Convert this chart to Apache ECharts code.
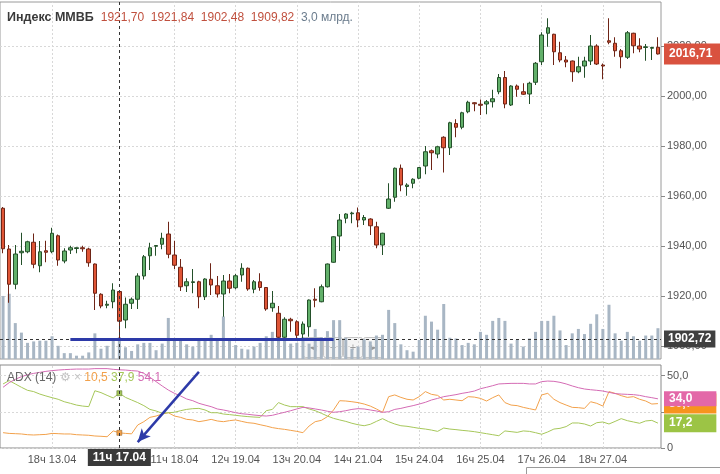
<!DOCTYPE html>
<html><head><meta charset="utf-8">
<script src="https://cdn.jsdelivr.net/npm/echarts/dist/echarts.min.js"></script>
<style>html,body{margin:0;padding:0;background:#fff}#c{width:720px;height:474px}</style>
</head><body><div id="c"></div><script>
// ---- data ----
const days = ['13.04','14.04','17.04','18.04','19.04','20.04','21.04','24.04','25.04','26.04','27.04','28.04'];
const hours = [10,11,12,13,14,15,16,17,18];
const categories = [];
days.forEach(d => hours.forEach(h => categories.push(h + 'ч ' + d)));

const opens = [1955.0,1938.7,1924.6,1937.2,1937.6,1941.4,1932.0,1938.0,1937.6,1944.0,
 1933.9,1938.3,1938.9,1939.2,1938.7,1932.7,1920.6,1916.2,1917.6,1921.70,
 1910.3,1917.0,1918.6,1927.9,1936.0,1939.8,1940.6,1944.7,1936.3,1931.4,
 1924.0,1925.3,1925.6,1919.6,1926.6,1924.0,1920.7,1925.9,1923.2,1928.3,
 1931.0,1922.6,1925.6,1923.3,1915.2,1913.0,1903.4,1910.6,1909.6,1904.7,
 1907.6,1918.6,1917.6,1923.6,1933.4,1943.9,1951.0,1952.8,1953.2,1950.3,
 1950.7,1947.6,1940.3,1955.0,1959.4,1971.0,1963.7,1965.0,1967.0,1971.9,
 1978.0,1976.7,1983.4,1979.2,1988.9,1987.4,1993.6,1997.2,1996.6,1996.7,
 1997.6,2001.6,2007.3,1996.3,2003.9,2001.6,2000.7,2005.4,2013.6,2025.0,
 2024.6,2017.2,2014.3,2013.9,2009.6,2011.9,2013.9,2019.9,2012.3,2022.0,
 2021.0,2018.0,2015.4,2025.0,2019.9,2019.3,2019.0,2019.4];
const closes = [1938.8,1924.6,1936.7,1937.8,1941.6,1932.6,1937.6,1937.4,1945.0,1934.3,
 1937.9,1939.2,1939.2,1938.8,1933.2,1921.0,1915.9,1916.6,1922.3,1909.82,
 1916.6,1918.6,1927.9,1935.6,1939.2,1940.1,1943.0,1936.6,1932.2,1923.6,
 1925.6,1925.6,1919.6,1926.7,1924.3,1920.7,1925.9,1923.0,1928.0,1931.0,
 1922.7,1925.6,1923.3,1914.7,1917.0,1903.4,1910.6,1910.0,1904.2,1908.7,
 1918.3,1918.2,1923.6,1932.7,1943.6,1950.3,1952.7,1953.1,1950.3,1951.3,
 1948.0,1940.3,1945.0,1958.7,1971.0,1964.3,1964.3,1966.6,1971.3,1977.6,
 1977.2,1979.6,1979.2,1989.2,1987.4,1993.2,1997.4,1996.8,1996.2,1997.6,
 1998.8,2007.3,1996.7,2003.9,2002.6,2000.6,2005.0,2013.0,2024.3,2027.2,
 2017.6,2014.3,2013.5,2009.6,2011.6,2013.9,2019.9,2012.7,2011.9,2021.4,
 2018.0,2015.6,2025.2,2020.0,2018.7,2019.6,2019.3,2016.71];
const lows = [1937.0,1917.2,1922.6,1932.3,1937.0,1931.0,1929.4,1933.4,1937.0,1932.0,
 1933.0,1936.7,1937.0,1937.6,1931.6,1914.3,1915.0,1915.0,1915.0,1902.48,
 1907.0,1914.7,1914.7,1926.5,1930.3,1936.0,1938.6,1935.0,1930.7,1921.9,
 1921.5,1921.0,1915.0,1918.3,1920.3,1919.3,1911.6,1921.0,1922.6,1925.6,
 1922.0,1921.0,1922.0,1914.0,1913.6,1903.0,1902.3,1905.6,1903.0,1902.3,
 1903.6,1915.4,1917.4,1923.3,1933.2,1937.9,1949.0,1949.0,1947.4,1948.3,
 1944.3,1939.0,1936.3,1954.7,1957.6,1961.8,1960.0,1963.0,1966.6,1968.6,
 1970.3,1975.0,1969.3,1976.3,1983.4,1986.6,1993.0,1993.8,1992.3,1992.6,
 1995.3,2000.6,1995.0,1995.9,1999.6,2000.3,1996.7,2004.3,2012.3,2019.6,
 2012.3,2013.4,2011.4,2005.6,2009.0,2007.2,2012.3,2012.3,2006.6,2020.6,
 2015.6,2011.0,2014.7,2017.0,2017.4,2014.0,2014.3,2016.5];
const highs = [1955.5,1940.3,1940.3,1945.2,1942.0,1944.9,1941.9,1942.0,1947.2,1944.5,
 1939.0,1940.0,1939.4,1940.0,1939.2,1932.9,1921.0,1918.0,1925.0,1921.84,
 1919.3,1919.3,1929.0,1936.3,1941.2,1940.3,1945.2,1949.6,1942.0,1934.7,
 1927.0,1930.7,1926.0,1927.0,1933.0,1927.9,1928.3,1928.7,1928.7,1933.0,
 1931.3,1926.3,1929.0,1923.5,1921.9,1915.9,1911.4,1911.2,1910.2,1909.7,
 1918.5,1923.0,1924.5,1932.9,1943.8,1952.7,1953.0,1953.6,1955.3,1952.3,
 1951.0,1949.6,1945.2,1965.0,1971.3,1972.5,1965.0,1967.0,1971.5,1979.9,
 1978.5,1980.0,1983.8,1989.6,1990.6,1993.6,1998.0,1997.4,1998.5,1998.3,
 2002.4,2008.7,2009.9,2004.2,2004.5,2005.0,2005.6,2013.5,2025.4,2031.0,
 2024.8,2021.6,2015.9,2014.1,2015.6,2015.6,2024.3,2020.6,2012.9,2031.0,
 2023.4,2018.7,2025.9,2025.2,2023.0,2020.7,2019.6,2023.4];
// volume, billions
const volumes = [8.6,8.9,4.9,3.6,2.2,2.4,2.5,2.5,3.1,1.8,
 0.8,0.8,0.45,0.45,0.9,3.5,1.4,1.8,2.6,3.0,
 1.6,1.1,2.0,2.2,2.2,1.2,2.1,5.6,2.7,2.6,
 2.0,1.7,2.6,2.6,3.3,2.5,5.8,2.5,1.9,1.4,
 1.3,1.7,2.2,3.1,3.7,3.5,2.7,2.1,2.2,3.0,
 2.1,4.1,3.0,3.8,5.3,5.3,2.9,1.4,1.7,2.7,
 2.4,3.2,3.3,6.7,4.9,2.0,1.2,1.0,2.6,5.9,
 5.1,4.0,7.5,2.9,2.8,1.9,2.2,2.0,3.7,3.3,
 5.2,5.6,5.2,2.1,2.6,1.7,2.8,3.7,5.2,5.2,
 5.9,3.9,1.9,3.5,4.1,3.4,4.8,6.1,4.1,7.4,
 3.5,2.5,3.7,3.1,2.5,3.2,3.2,4.2];
// ADX(14) components
const plusDI = [10.6,10.1,9.9,9.7,9.2,9.0,9.2,9.4,10.1,9.9,
 9.7,9.7,9.2,9.0,8.8,8.3,8.1,7.8,11.8,10.5,
 10.1,9.8,15.9,18.2,21.2,22.1,23.5,24.4,22.1,21.2,
 19.8,19.4,18.2,18.9,19.8,18.7,18.2,18.9,19.4,18.4,
 17.5,17.1,16.1,15.2,14.1,13.4,12.9,12.2,11.5,10.6,
 15.2,18.2,19.1,21.7,26.3,32.7,32.5,32.0,31.4,30.4,
 29.0,27.0,24.7,35.5,36.7,35.0,33.7,33.2,35.5,39.0,
 37.1,36.4,33.2,33.7,33.2,32.7,35.5,35.2,34.3,32.5,
 34.8,36.7,31.4,29.7,29.3,28.1,27.2,26.3,36.7,37.8,
 33.7,31.4,29.7,28.1,27.9,27.4,32.0,30.9,29.0,39.0,
 37.8,36.2,35.0,35.5,33.7,32.5,30.4,30.7];
const minusDI = [44.3,46.6,44.3,42.0,39.9,39.0,37.3,36.0,34.8,33.7,
 32.0,30.9,29.7,29.0,28.6,39.6,38.3,36.4,34.6,37.9,
 35.0,33.2,31.4,29.3,26.7,25.6,24.0,24.4,24.7,25.8,
 26.7,27.2,27.4,26.3,24.4,24.4,23.5,23.1,22.6,22.1,
 21.7,21.4,21.2,25.8,26.7,31.4,29.7,28.6,28.6,28.6,
 27.0,25.8,24.0,22.1,20.5,19.4,18.4,17.1,16.1,15.4,
 16.4,18.4,20.3,18.2,16.6,15.4,15.0,14.3,13.6,13.1,
 12.4,11.5,13.8,13.1,12.7,12.2,11.8,11.3,10.6,9.9,
 9.2,8.5,11.8,11.3,10.8,11.8,11.5,10.6,9.5,11.1,
 13.1,13.6,14.8,17.3,17.3,16.6,15.2,17.5,18.0,16.6,
 18.4,20.3,18.9,18.0,17.1,18.7,19.1,17.2];
const adx = [42.0,45.2,47.5,49.3,50.7,51.6,52.3,53.0,53.5,53.9,
 54.2,54.4,54.6,54.6,54.6,54.9,54.9,54.9,54.4,54.1,
 53.9,53.5,53.2,51.6,48.9,45.9,42.9,40.1,37.8,36.0,
 33.9,32.7,30.9,29.7,28.6,27.0,26.3,25.4,24.4,23.7,
 23.3,22.8,22.4,22.1,22.6,23.7,24.7,25.8,27.0,28.1,
 27.7,27.0,26.3,25.4,24.7,25.1,25.8,26.7,27.2,27.0,
 26.3,25.6,24.7,25.1,26.7,27.4,28.4,29.3,30.4,31.6,
 33.2,34.3,35.5,36.2,36.9,37.8,38.5,39.4,41.0,42.0,
 43.1,44.3,44.5,44.7,44.7,44.7,44.3,44.3,45.9,46.3,
 46.1,45.4,44.3,42.9,41.7,40.8,40.3,39.9,39.4,38.5,
 37.6,37.3,37.1,36.9,36.4,35.5,34.8,34.0];

const labelIdx = [8, 28, 38, 48, 58, 68, 78, 88, 98];   // shown time labels
const priceTicks = [1900, 1920, 1940, 1960, 1980, 2000, 2020];
const adxTicks = [0, 25, 50];
const adxLabels = [0, 50];
const crossIdx = 19;          // crosshair candle
const crossPrice = 1902.72;   // crosshair price level
const annot = { lineFrom: 11, lineTo: 54, arrowFrom: [32, 52.6], arrowTo: [22, 4.1] };

// ---- chart ----
const FONT = '"Liberation Sans", Arial, sans-serif';
const fmt2 = v => v.toFixed(2).replace('.', ',');
const fmt1 = v => v.toFixed(1).replace('.', ',');
const last = closes.length - 1;
const candleData = opens.map((o, i) => [o, closes[i], lows[i], highs[i]]);
const GW = 661;
const BLUE = '#2d3aa8';
const C_OR = '#f2a14b', C_GR = '#a6c75a', C_PK = '#d46bb4';
const HIDDEN = { color: 'rgba(0,0,0,0)', width: 0 };

const endLabel = (txt, bg, pad) => ({
  show: true, position: 'end', distance: 3, formatter: txt,
  backgroundColor: bg, color: '#fff', fontWeight: 'bold', fontSize: 12,
  fontFamily: FONT, padding: pad || [3, 4, 2, 4], opacity: 1
});

const chart = echarts.init(document.getElementById('c'), null, { renderer: 'canvas' });
chart.setOption({
  animation: false,
  textStyle: { fontFamily: FONT },
  title: [
    { left: 2, top: 6,
      text: '{n|Индекс ММВБ  }{v|' + fmt2(opens[crossIdx]) + '  }{v|' + fmt2(highs[crossIdx]) + '  }{v|' +
            fmt2(lows[crossIdx]) + '  }{v|' + fmt2(closes[crossIdx]) + '  }{m|' + fmt1(volumes[crossIdx]) + ' млрд.}',
      textStyle: { fontWeight: 'normal', fontSize: 12, rich: {
        n: { fontSize: 12.5, fontWeight: 'bold', color: '#3a3a3a', fontFamily: FONT },
        v: { fontSize: 12, fontWeight: 'normal', color: '#c0503e', fontFamily: FONT },
        m: { fontSize: 12, fontWeight: 'normal', color: '#6b7c8d', fontFamily: FONT } } } },
    { left: 2, top: 367,
      text: '{a|ADX (14) }{g|⚙ × }{o|' + fmt1(plusDI[crossIdx]) + ' }{gr|' + fmt1(minusDI[crossIdx]) + ' }{p|' + fmt1(adx[crossIdx]) + '}',
      textStyle: { fontWeight: 'normal', fontSize: 12, rich: {
        a: { fontSize: 12, fontWeight: 'normal', color: '#666', fontFamily: FONT },
        g: { fontSize: 12, fontWeight: 'normal', color: '#c4c4c4', fontFamily: FONT },
        o: { fontSize: 12, fontWeight: 'normal', color: C_OR, fontFamily: FONT },
        gr: { fontSize: 12, fontWeight: 'normal', color: C_GR, fontFamily: FONT },
        p: { fontSize: 12, fontWeight: 'normal', color: C_PK, fontFamily: FONT } } } }
  ],
  grid: [
    { left: 0, top: 2, width: GW, height: 357, show: true, borderColor: '#9a9a9a', borderWidth: 1 },
    { left: 0, top: 365, width: GW, height: 83, show: true, borderColor: '#8a8a8a', borderWidth: 1 }
  ],
  xAxis: [
    { gridIndex: 0, type: 'category', data: categories, boundaryGap: true,
      axisLine: { show: false }, axisTick: { show: false }, axisLabel: { show: false }, splitLine: { show: false } },
    { gridIndex: 1, type: 'category', data: categories, boundaryGap: true,
      axisLine: { show: false }, axisTick: { show: false }, splitLine: { show: false },
      axisLabel: { show: true, interval: (i) => labelIdx.includes(i), color: '#555', fontSize: 11, margin: 6, fontFamily: FONT } }
  ],
  yAxis: [
    { gridIndex: 0, type: 'value', position: 'right', min: 1894.7, max: 2037.5,
      axisLine: { show: false },
      axisTick: { show: true, length: 4, customValues: priceTicks, lineStyle: { color: '#888' } },
      axisLabel: { customValues: priceTicks, formatter: (v) => fmt2(v), color: '#555', fontSize: 11, margin: 6, fontFamily: FONT },
      splitLine: { show: true, lineStyle: { color: '#d8d8d8', type: [2, 2] } } },
    { gridIndex: 0, type: 'value', min: 0, max: 48.7, show: false, splitLine: { show: false } },
    { gridIndex: 1, type: 'value', position: 'right', min: 0, max: 57.4,
      axisLine: { show: false },
      axisTick: { show: true, length: 4, customValues: adxTicks, lineStyle: { color: '#888' } },
      axisLabel: { customValues: adxLabels, formatter: (v) => v === 0 ? '0' : fmt1(v), color: '#555', fontSize: 11, margin: 6, fontFamily: FONT },
      splitLine: { show: true, lineStyle: { color: '#d8d8d8', type: [2, 2] } } }
  ],
  series: [
    { name: 'vol', type: 'bar', xAxisIndex: 0, yAxisIndex: 1, data: volumes, barWidth: 3,
      itemStyle: { color: '#a8b6c4' }, silent: true,
      markLine: { silent: true, symbol: 'none', z: 1, label: { show: false },
        lineStyle: { color: '#d8d8d8', type: [2, 2], width: 1 },
        data: labelIdx.map(i => ({ xAxis: i })) } },
    { name: 'price', type: 'candlestick', xAxisIndex: 0, yAxisIndex: 0, data: candleData, barWidth: 4,
      itemStyle: { color: '#62b06a', color0: '#df5536', borderColor: '#24502a', borderColor0: '#6e2416', borderWidth: 1 },
      markLine: { silent: true, symbol: 'none', z: 5, animation: false,
        data: [
          { xAxis: crossIdx, lineStyle: { color: '#333', type: [3, 3], width: 1 }, label: { show: false } },
          { yAxis: crossPrice, lineStyle: { color: '#333', type: [3, 3], width: 1 }, label: endLabel(fmt2(crossPrice), '#404040') },
          { yAxis: closes[last], lineStyle: HIDDEN, label: endLabel(fmt2(closes[last]), '#d9523f', [5, 10, 4, 5]) },
          [ { coord: [annot.lineFrom, crossPrice] }, { coord: [annot.lineTo, crossPrice], lineStyle: { color: BLUE, width: 3, type: 'solid' }, label: { show: false } } ]
        ] } },
    { name: 'gridADX', type: 'line', xAxisIndex: 1, yAxisIndex: 2, data: adx, symbol: 'none',
      lineStyle: { opacity: 0 }, silent: true,
      markLine: { silent: true, symbol: 'none', z: 1, label: { show: false },
        lineStyle: { color: '#d8d8d8', type: [2, 2], width: 1 },
        data: labelIdx.map(i => ({ xAxis: i })) } },
    { name: '+DI', type: 'line', xAxisIndex: 1, yAxisIndex: 2, data: plusDI, symbol: 'none',
      lineStyle: { color: C_OR, width: 1 },
      markPoint: { symbol: 'rect', symbolSize: 5, label: { show: false },
        itemStyle: { color: C_OR, borderColor: '#8a5a20', borderWidth: 0.5 },
        data: [{ coord: [crossIdx, plusDI[crossIdx]] }] },
      markLine: { silent: true, symbol: 'none', z: 6,
        data: [{ yAxis: plusDI[last], lineStyle: HIDDEN, label: endLabel(fmt1(plusDI[last]), '#f7941e', [4, 24, 4, 5]) }] } },
    { name: '-DI', type: 'line', xAxisIndex: 1, yAxisIndex: 2, data: minusDI, symbol: 'none',
      lineStyle: { color: C_GR, width: 1 },
      markPoint: { symbol: 'rect', symbolSize: 5, label: { show: false },
        itemStyle: { color: C_GR, borderColor: '#4f6a20', borderWidth: 0.5 },
        data: [{ coord: [crossIdx, minusDI[crossIdx]] }] },
      markLine: { silent: true, symbol: 'none', z: 6,
        data: [{ yAxis: minusDI[last], lineStyle: HIDDEN, label: endLabel(fmt1(minusDI[last]), '#9cc445', [3, 24, 3, 5]) }] } },
    { name: 'ADX', type: 'line', xAxisIndex: 1, yAxisIndex: 2, data: adx, symbol: 'none',
      lineStyle: { color: C_PK, width: 1 },
      markLine: { silent: true, symbol: 'none', z: 7,
        data: [{ yAxis: adx[last], lineStyle: HIDDEN, label: endLabel(fmt1(adx[last]), '#e368a8', [2, 24, 1, 5]) }] } },
    { name: 'crossADX', type: 'line', xAxisIndex: 1, yAxisIndex: 2, data: adx, symbol: 'none',
      lineStyle: { opacity: 0 }, silent: true,
      markLine: { silent: true, symbol: 'none', z: 8,
        data: [
          { xAxis: crossIdx, lineStyle: { color: '#333', type: [3, 3], width: 1 },
            label: { show: true, position: 'start', distance: 1, formatter: categories[crossIdx],
              backgroundColor: '#3a3a3a', color: '#fff', fontWeight: 'bold', fontSize: 12, fontFamily: FONT, padding: [3, 5, 2, 5] } },
          [ { coord: annot.arrowFrom, symbol: 'none' },
            { coord: annot.arrowTo, symbol: 'arrow', symbolSize: [9, 13], lineStyle: { color: BLUE, width: 2.5, type: 'solid' }, label: { show: false } } ]
        ] } }
  ],
  graphic: [
    { type: 'group', left: 303, top: 337, silent: true, children: [0, 1, 2, 3].map(k => ({
        type: 'rect', shape: { x: k * 20, y: 0, width: 19, height: 20, r: 2 },
        style: { fill: 'rgba(236,236,236,0.55)', stroke: 'rgba(160,160,160,0.6)', lineWidth: 1 } }))
      .concat(['◄', '−', '+', '►'].map((t, k) => ({
        type: 'text', x: k * 20 + 9.5, y: 10,
        style: { text: t, fill: '#9a9a9a', font: '11px ' + FONT, textAlign: 'center', textVerticalAlign: 'middle' } }))) },
    { type: 'rect', left: 526, top: 467, silent: true, shape: { width: 200, height: 20 },
      style: { fill: '#fff', stroke: '#9a9a9a', lineWidth: 1 } }
  ]
});
</script></body></html>
